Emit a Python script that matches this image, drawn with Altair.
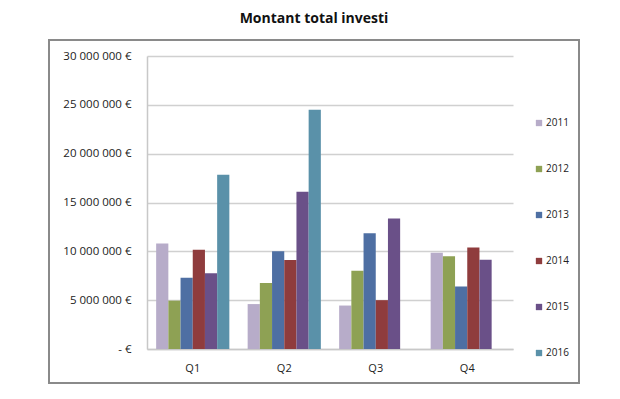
import altair as alt
import pandas as pd

quarters = ["Q1", "Q2", "Q3", "Q4"]
years = ["2011", "2012", "2013", "2014", "2015", "2016"]
colors = ["#b7acc9", "#8ea154", "#4e6fa3", "#8f3c3d", "#6a5088", "#5a91a9"]

v2011 = [10800000, 4600000, 4450000, 9850000]
v2012 = [4950000, 6750000, 8000000, 9500000]
v2013 = [7300000, 10000000, 11850000, 6400000]
v2014 = [10150000, 9100000, 5000000, 10400000]
v2015 = [7750000, 16100000, 13350000, 9150000]
v2016 = [17850000, 24500000, None, None]

series = [v2011, v2012, v2013, v2014, v2015, v2016]
rows = []
for y, vals in zip(years, series):
    for q, v in zip(quarters, vals):
        if v is not None:
            rows.append({"Trimestre": q, "Année": y, "Montant": v})
df = pd.DataFrame(rows)

FONT = "Open Sans"

bars = alt.Chart(df).mark_bar().encode(
    x=alt.X("Trimestre:N", sort=quarters,
            scale=alt.Scale(paddingInner=0.2, paddingOuter=0.1),
            axis=alt.Axis(title=None, labelAngle=0, ticks=False, domain=True,
                          domainColor="#c8c8c8", domainWidth=1.5,
                          labelFont=FONT, labelFontSize=11, labelColor="#222",
                          labelPadding=13)),
    xOffset=alt.XOffset("Année:N", sort=years,
                        scale=alt.Scale(paddingInner=0, paddingOuter=0)),
    y=alt.Y("Montant:Q", scale=alt.Scale(domain=[0, 30000000]),
            axis=alt.Axis(title=None, values=[0, 5000000, 10000000, 15000000, 20000000, 25000000, 30000000],
                          labelExpr="datum.value == 0 ? '- €' : replace(format(datum.value, ','), regexp(',', 'g'), ' ') + ' €'",
                          ticks=False, domain=True, domainColor="#c8c8c8", domainWidth=1.5,
                          grid=True, gridColor="#d0d0d0", gridWidth=1.5,
                          labelFont=FONT, labelFontSize=11.5, labelColor="#222",
                          labelPadding=16)),
    color=alt.Color("Année:N", sort=years,
                    scale=alt.Scale(domain=years, range=colors),
                    legend=alt.Legend(title=None, orient="none", legendX=387, legendY=62,
                                      symbolType="square", symbolSize=40, symbolStrokeWidth=0,
                                      labelFont=FONT, labelFontSize=10, labelColor="#222",
                                      rowPadding=36, labelOffset=2)),
)

frame = alt.Chart(df).mark_rect(fillOpacity=0, stroke="#8a8a8a", strokeWidth=1.5).encode(
    x=alt.value(-98), x2=alt.value(432), y=alt.value(-16), y2=alt.value(327)
)

chart = alt.layer(frame, bars).properties(
    width=366, height=293,
    autosize=alt.AutoSizeParams(type="none"),
    padding={"left": 139, "top": 48, "right": 90, "bottom": 40},
    title=alt.TitleParams("Montant total investi", font=FONT, fontSize=14, fontWeight="bold",
                          color="#111", anchor="middle", offset=13, dx=-16),
).configure_view(stroke=None)

chart.save("out.html", embed_options={"renderer": "svg", "actions": False})
